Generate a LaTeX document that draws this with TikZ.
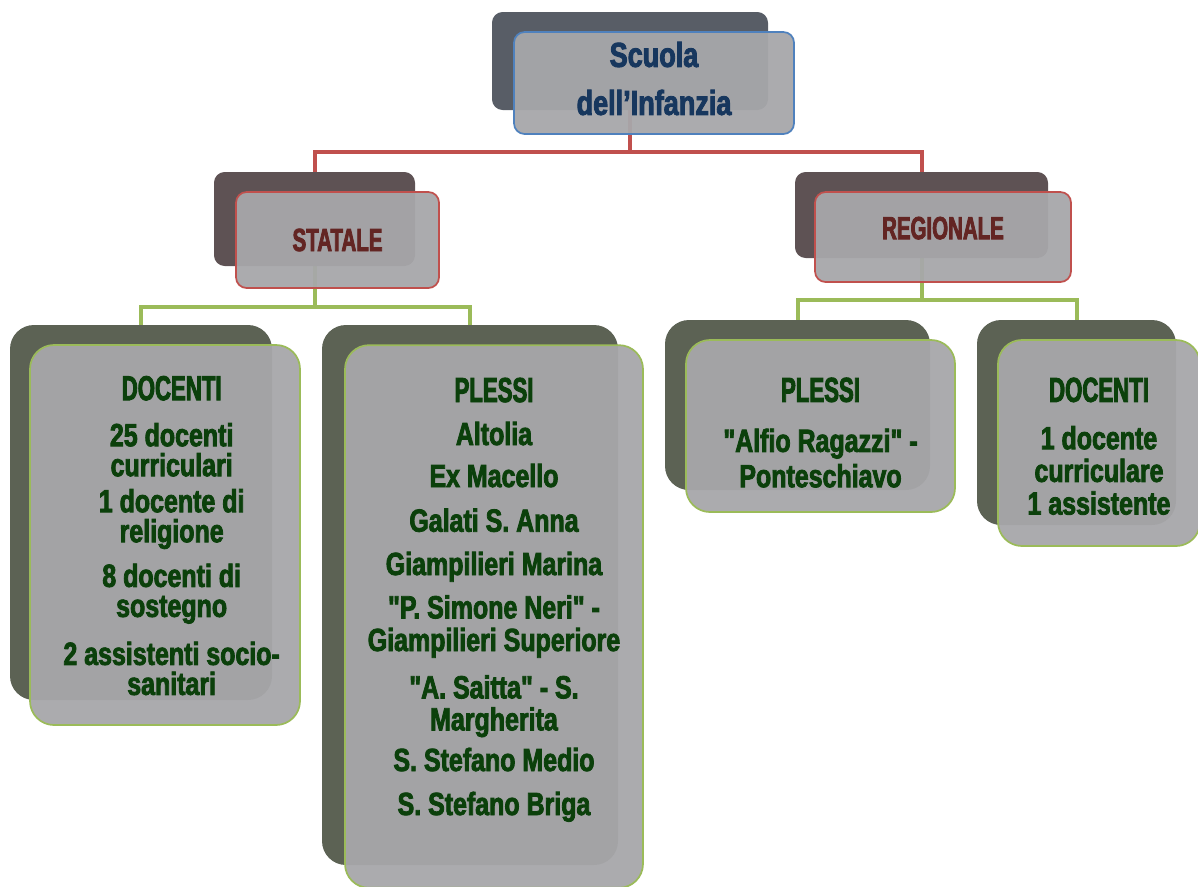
\documentclass[tikz,border=0pt]{standalone}
\usepackage{fontspec}
\usepackage{tikz}
\usetikzlibrary{backgrounds}
\newfontfamily\bodyfont{Liberation Sans Bold}[FakeStretch=0.78,FakeBold=2.5]
\newfontfamily\headfont{Liberation Sans Bold}[FakeStretch=0.64,FakeBold=2.5]
\definecolor{rootblue}{HTML}{4F81BD}
\definecolor{rootink}{HTML}{17375E}
\definecolor{redlinecol}{HTML}{C0504D}
\definecolor{redink}{HTML}{632523}
\definecolor{greenlinecol}{HTML}{9BBB59}
\definecolor{greenink}{HTML}{0B400B}
\definecolor{boxgray}{HTML}{A7A7AA}
\definecolor{shadeblue}{HTML}{585D66}
\definecolor{shadered}{HTML}{5E5254}
\definecolor{shadegreen}{HTML}{5C6254}
\tikzstyle{every node}=[align=center,inner sep=0pt]
\tikzstyle{shadebox}=[rounded corners=8pt]
\tikzstyle{shadeleaf}=[shadebox,fill=shadegreen,rounded corners=18pt]
\tikzstyle{facebox}=[draw,line width=1.3pt,fill=boxgray,fill opacity=0.95,text opacity=1,rounded corners=8pt]
\tikzstyle{bluebox}=[facebox,draw=rootblue,text=rootink]
\tikzstyle{redbox}=[facebox,draw=redlinecol,text=redink]
\tikzstyle{greenbox}=[facebox,draw=greenlinecol,text=greenink,rounded corners=18pt,
  font=\bodyfont\fontsize{24pt}{22.5pt}\selectfont]
\tikzstyle{redlink}=[draw=redlinecol,line width=3pt]
\tikzstyle{greenlink}=[draw=greenlinecol,line width=3pt]
\newcommand{\headline}[2][19pt]{{\headfont\fontsize{26pt}{22.5pt}\selectfont\rule{0pt}{#1}#2}}

\begin{document}
\begin{tikzpicture}[x=0.75pt,y=-0.75pt]
  \useasboundingbox (0,0) rectangle (1198,886);
  % shadows
  \node[shadebox,fill=shadeblue,minimum width=207pt,minimum height=73.5pt] (root) at (630,61) {};
  \node[shadebox,fill=shadered,minimum width=150.75pt,minimum height=70.5pt] (statale) at (314.5,219) {};
  \node[shadebox,fill=shadered,minimum width=189.75pt,minimum height=64.5pt] (regionale) at (921.5,215) {};
  \node[shadeleaf,minimum width=196.5pt,minimum height=281.25pt] (sdoc) at (141,512.5) {};
  \node[shadeleaf,minimum width=222pt,minimum height=405pt] (splessi) at (470,595) {};
  \node[shadeleaf,minimum width=198.75pt,minimum height=127.5pt] (rplessi) at (797.5,405) {};
  \node[shadeleaf,minimum width=149.25pt,minimum height=153.75pt] (rdoc) at (1076.5,422.5) {};
  % boxes
  \node[bluebox,minimum width=210pt,minimum height=76.5pt,text depth=7pt,
    font=\bodyfont\fontsize{26pt}{36pt}\selectfont] (root-f) at (654,83)
    {Scuola\\dell’Infanzia};
  \node[redbox,minimum width=152.25pt,minimum height=72pt,
    font=\headfont\fontsize{24pt}{24pt}\selectfont] (statale-f) at (337.5,240) {STATALE};
  \node[redbox,minimum width=192pt,minimum height=67.5pt,text depth=13.5pt,
    font=\headfont\fontsize{24pt}{24pt}\selectfont] (regionale-f) at (943,237) {REGIONALE};
  \node[greenbox,minimum width=202.5pt,minimum height=285pt] (sdoc-f) at (165,535)
    {\hspace*{10pt}\headline{DOCENTI}\\[12pt]
     \hspace*{10pt}25 docenti\\ \hspace*{10pt}curriculari\\[4.5pt]
     \hspace*{10pt}1 docente di\\ \hspace*{10pt}religione\\[11pt]
     \hspace*{10pt}8 docenti di\\ \hspace*{10pt}sostegno\\[13.5pt]
     \hspace*{10pt}2 assistenti socio-\\ \hspace*{10pt}sanitari};
  \node[greenbox,minimum width=223.5pt,minimum height=407pt,text depth=31pt] (splessi-f) at (494,616.5)
    {\headline{PLESSI}\\[9.75pt]
     Altolia\\[9pt]
     Ex Macello\\[11pt]
     Galati S. Anna\\[10pt]
     Giampilieri Marina\\[10pt]
     "P. Simone Neri" -\\[2pt] Giampilieri Superiore\\[13pt]
     "A. Saitta" - S.\\[1.5pt] Margherita\\[8pt]
     S. Stefano Medio\\[10.5pt]
     S. Stefano Briga};
  \node[greenbox,minimum width=201.75pt,minimum height=129pt] (rplessi-f) at (820.5,426)
    {\headline[28pt]{PLESSI}\\[15pt]
     "Alfio Ragazzi" -\\[4pt] Ponteschiavo};
  \node[greenbox,minimum width=151.5pt,minimum height=154.5pt] (rdoc-f) at (1099,443)
    {\headline[23pt]{DOCENTI}\\[13pt]
     1 docente\\[2pt] curriculare\\[2pt] 1 assistente};
  % links
  \begin{scope}[on background layer]
    \draw[redlink] (root.south) -- ++(0,42) -| (statale.north);
    \draw[redlink] (root.south) -- ++(0,42) -| (regionale.north);
    \draw[greenlink] (statale.south) -- ++(0,41) -| (sdoc.north);
    \draw[greenlink] (statale.south) -- ++(0,41) -| (splessi.north);
    \draw[greenlink] (regionale.south) -- ++(0,42) -| (rplessi.north);
    \draw[greenlink] (regionale.south) -- ++(0,42) -| (rdoc.north);
  \end{scope}
\end{tikzpicture}
\end{document}
